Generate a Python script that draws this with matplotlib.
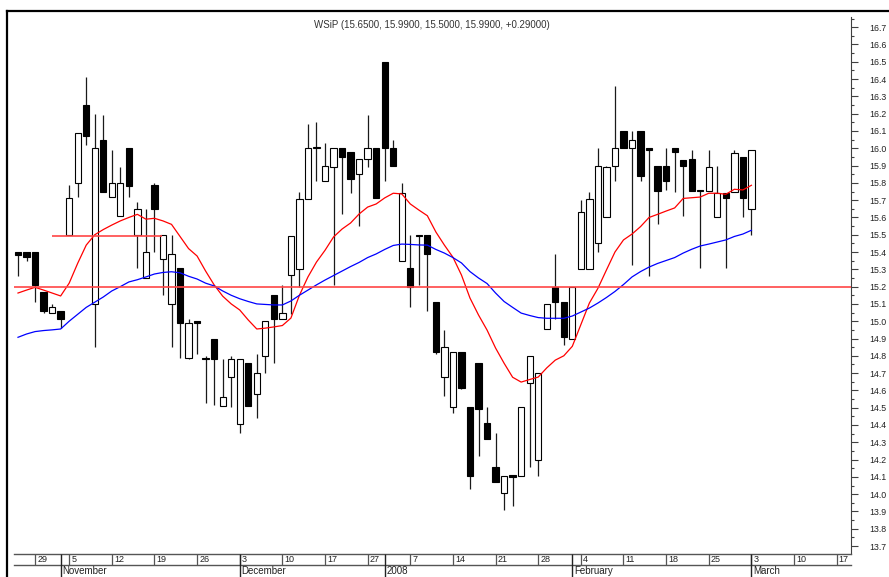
import numpy as np
import pandas as pd
import matplotlib
matplotlib.use("Agg")
import matplotlib.pyplot as plt
from matplotlib.patches import Rectangle
from matplotlib.lines import Line2D
from matplotlib.ticker import MultipleLocator, FormatStrFormatter

plt.rcParams['font.family'] = ['Liberation Sans', 'DejaVu Sans']

# trading calendar (GPW), Oct 25 2007 .. Mar 17 2008
holidays = ['2007-11-01', '2007-12-24', '2007-12-25', '2007-12-26',
            '2007-12-31', '2008-01-01']
dates = pd.bdate_range('2007-10-25', '2008-03-17')
dates = dates[~dates.isin(pd.to_datetime(holidays))]

# weekly ticks shown in the day row
week_ticks = ['2007-10-29', '2007-11-05', '2007-11-12', '2007-11-19', '2007-11-26',
              '2007-12-03', '2007-12-10', '2007-12-17', '2007-12-27', '2008-01-07',
              '2008-01-14', '2008-01-21', '2008-01-28', '2008-02-04', '2008-02-11',
              '2008-02-18', '2008-02-25', '2008-03-03', '2008-03-10', '2008-03-17']

# candles
opens = [15.40, 15.40, 15.40, 15.17, 15.05, 15.06, 15.50, 15.80, 16.25, 15.10,
         16.05, 15.72, 15.61, 16.00, 15.50, 15.25, 15.79, 15.36, 15.10, 15.31,
         14.79, 15.00, 14.79, 14.90, 14.51, 14.68, 14.405, 14.76, 14.58, 14.80,
         15.15, 15.01, 15.27, 15.30, 15.705, 16.00, 15.81, 15.89, 16.00, 15.98,
         15.85, 15.94, 16.00, 16.50, 16.00, 15.35, 15.31, 15.50, 15.50, 15.11,
         14.68, 14.505, 14.82, 14.505, 14.76, 14.41, 14.155, 14.005, 14.11, 14.105,
         14.645, 14.20, 14.955, 15.20, 15.11, 14.90, 15.30, 15.30, 15.45, 15.60,
         15.90, 16.10, 16.00, 16.10, 16.00, 15.90, 15.90, 16.00, 15.93, 15.94,
         15.76, 15.755, 15.60, 15.74, 15.745, 15.95, 15.65]
highs = [15.40, 15.40, 15.40, 15.17, 15.10, 15.06, 15.79, 16.09, 16.41, 16.20,
         16.19, 15.99, 15.89, 16.00, 15.69, 15.65, 15.80, 15.50, 15.50, 15.31,
         15.01, 15.00, 14.80, 14.90, 14.78, 14.80, 14.78, 14.76, 14.81, 15.00,
         15.15, 15.21, 15.49, 15.75, 16.14, 16.15, 16.03, 16.00, 16.00, 15.98,
         15.94, 16.19, 16.00, 16.50, 16.05, 15.80, 15.50, 15.50, 15.50, 15.11,
         14.95, 14.82, 14.82, 14.505, 14.76, 14.505, 14.355, 14.105, 14.11, 14.505,
         14.80, 14.70, 15.10, 15.39, 15.11, 15.20, 15.70, 15.75, 16.00, 15.90,
         16.36, 16.10, 16.10, 16.10, 16.00, 15.90, 16.00, 16.00, 15.93, 15.99,
         15.76, 15.99, 15.90, 15.74, 15.99, 15.95, 15.99]
lows = [15.26, 15.35, 15.11, 15.05, 15.05, 14.96, 15.50, 15.72, 16.02, 14.85,
        15.75, 15.72, 15.61, 15.72, 15.31, 15.25, 15.40, 15.15, 14.85, 14.785,
        14.78, 14.81, 14.525, 14.515, 14.51, 14.505, 14.355, 14.51, 14.44, 14.70,
        14.76, 15.01, 15.04, 15.20, 15.705, 15.81, 15.81, 15.21, 15.62, 15.74,
        15.55, 15.89, 15.71, 15.81, 15.90, 15.35, 15.08, 15.21, 15.06, 14.81,
        14.57, 14.47, 14.61, 14.03, 14.22, 14.32, 14.07, 13.91, 13.93, 14.105,
        14.155, 14.105, 14.955, 15.01, 14.86, 14.90, 15.30, 15.30, 15.40, 15.60,
        15.81, 16.00, 15.325, 15.81, 15.26, 15.56, 15.76, 15.75, 15.61, 15.755,
        15.31, 15.755, 15.60, 15.31, 15.745, 15.605, 15.50]
closes = [15.38, 15.37, 15.21, 15.06, 15.08, 15.01, 15.71, 16.09, 16.07, 16.00,
          15.75, 15.80, 15.80, 15.78, 15.65, 15.40, 15.65, 15.50, 15.39, 14.99,
          14.99, 14.99, 14.78, 14.78, 14.56, 14.78, 14.78, 14.51, 14.70, 15.00,
          15.01, 15.05, 15.49, 15.705, 16.00, 16.01, 15.90, 16.00, 15.95, 15.82,
          15.94, 16.00, 15.71, 16.00, 15.90, 15.74, 15.20, 15.49, 15.39, 14.82,
          14.85, 14.82, 14.615, 14.105, 14.49, 14.32, 14.07, 14.105, 14.10, 14.505,
          14.80, 14.70, 15.10, 15.11, 14.91, 15.20, 15.63, 15.705, 15.90, 15.89,
          16.00, 16.00, 16.05, 15.84, 15.99, 15.755, 15.81, 15.98, 15.90, 15.755,
          15.755, 15.894, 15.74, 15.71, 15.97, 15.71, 15.99]

# moving averages (red = short, blue = long)
ma_red = [15.163, 15.18, 15.196, 15.18, 15.163, 15.146, 15.22, 15.335, 15.44, 15.50,
          15.53, 15.556, 15.58, 15.60, 15.618, 15.59, 15.595, 15.58, 15.56, 15.49,
          15.42, 15.377, 15.29, 15.21, 15.145, 15.10, 15.065, 15.007, 14.955, 14.96,
          14.967, 14.975, 15.018, 15.15, 15.256, 15.342, 15.41, 15.487, 15.533, 15.568,
          15.62, 15.66, 15.678, 15.713, 15.74, 15.736, 15.678, 15.643, 15.61, 15.516,
          15.44, 15.37, 15.267, 15.134, 15.036, 14.949, 14.845, 14.757, 14.676, 14.648,
          14.663, 14.677, 14.73, 14.775, 14.80, 14.855, 14.98, 15.105, 15.19, 15.296,
          15.40, 15.47, 15.504, 15.547, 15.60, 15.618, 15.637, 15.655, 15.71, 15.714,
          15.718, 15.74, 15.74, 15.734, 15.763, 15.759, 15.786]
ma_blue = [14.907, 14.926, 14.94, 14.946, 14.95, 14.955, 15.00, 15.04, 15.08, 15.11,
           15.14, 15.175, 15.20, 15.227, 15.24, 15.256, 15.273, 15.282, 15.286, 15.28,
           15.26, 15.244, 15.22, 15.204, 15.175, 15.15, 15.13, 15.114, 15.10, 15.097,
           15.094, 15.094, 15.117, 15.15, 15.18, 15.21, 15.238, 15.264, 15.29, 15.316,
           15.34, 15.368, 15.389, 15.415, 15.438, 15.446, 15.444, 15.441, 15.44, 15.415,
           15.394, 15.368, 15.337, 15.287, 15.25, 15.218, 15.163, 15.114, 15.08, 15.047,
           15.033, 15.021, 15.017, 15.017, 15.017, 15.03, 15.053, 15.076, 15.105, 15.137,
           15.172, 15.212, 15.256, 15.287, 15.313, 15.334, 15.351, 15.368, 15.394, 15.416,
           15.435, 15.446, 15.458, 15.47, 15.49, 15.504, 15.526]

# user drawn levels: (price, first day, last day)
level_full = 15.20
level_short = (15.49, 4.0, 16.9)

title = "WSiP (15.6500, 15.9900, 15.5000, 15.9900, +0.29000)"

W, H = 889, 577
fig = plt.figure(figsize=(W / 100, H / 100), dpi=100)

x0, x1 = 14, 850.7
ax = fig.add_axes([x0 / W, 1 - 554 / H, (x1 - x0) / W, (554 - 17) / H])

n = len(opens)
idx = np.arange(n)
bw = 0.74
for i in idx:
    o, h, l, c = opens[i], highs[i], lows[i], closes[i]
    ax.vlines(i, l, h, color='#1a1a1a', lw=0.9, zorder=2)
    fc = 'black' if c < o else 'white'
    ax.add_patch(Rectangle((i - bw / 2, min(o, c)), bw, abs(c - o),
                           facecolor=fc, edgecolor='black', lw=0.8, zorder=3))

ax.plot(idx, ma_red, color='#ff0000', lw=0.9, zorder=4)
ax.plot(idx, ma_blue, color='#0000ff', lw=0.9, zorder=4)
ax.axhline(level_full, color='#ff4545', lw=1.2, zorder=5)
ax.hlines(level_short[0], level_short[1], level_short[2], color='#ff4545', lw=1.2, zorder=5)

ax.set_xlim((x0 - 18.0) / 8.528, (x1 - 18.0) / 8.528)
ax.set_ylim(13.654, 16.759)
ax.set_xticks([])
for s in ['left', 'top', 'bottom']:
    ax.spines[s].set_visible(False)
ax.spines['right'].set_color('#404040')
ax.spines['right'].set_linewidth(0.8)
ax.yaxis.tick_right()
ax.yaxis.set_major_locator(MultipleLocator(0.1))
ax.yaxis.set_minor_locator(MultipleLocator(0.05))
ax.yaxis.set_major_formatter(FormatStrFormatter('%.1f'))
ax.tick_params(axis='y', which='major', length=5.2, width=0.8, pad=8,
               labelsize=6.3, colors='#404040', labelcolor='#222222')
ax.tick_params(axis='y', which='minor', length=2.2, width=0.8, colors='#404040')

# date rows under the chart
rax = fig.add_axes([x0 / W, 0, (x1 - x0) / W, 23 / H])
rax.set_xlim(ax.get_xlim())
rax.set_ylim(0, 23)
rax.axis('off')
rax.axhline(23, color='#555555', lw=1.0, clip_on=False)
rax.axhline(12, color='#555555', lw=1.0, clip_on=False)

for d in pd.to_datetime(week_ticks):
    i = dates.get_loc(d)
    rax.vlines(i, 12, 23, color='#555555', lw=0.9)
    rax.text(i + 0.25, 17.6, str(d.day), fontsize=6.5,
             ha='left', va='center', color='#222222')

for i in range(1, len(dates)):
    if dates[i].month != dates[i - 1].month:
        rax.vlines(i, 0, 23, color='#222222', lw=1.0)
        name = str(dates[i].year) if dates[i].month == 1 else dates[i].strftime('%B')
        rax.text(i + 0.2, 5.6, name, fontsize=7, ha='left', va='center',
                 color='#222222')

# outer frame
fig.add_artist(Line2D([7 / W, 1], [1 - 11 / H] * 2, transform=fig.transFigure,
                      color='black', lw=1.6))
fig.add_artist(Line2D([7 / W] * 2, [0, 1 - 11 / H], transform=fig.transFigure,
                      color='black', lw=1.6))

fig.text(432 / W, 1 - 25 / H, title, ha='center', va='center', fontsize=7,
         color='#333333')

fig.savefig("out.png", dpi=100)
